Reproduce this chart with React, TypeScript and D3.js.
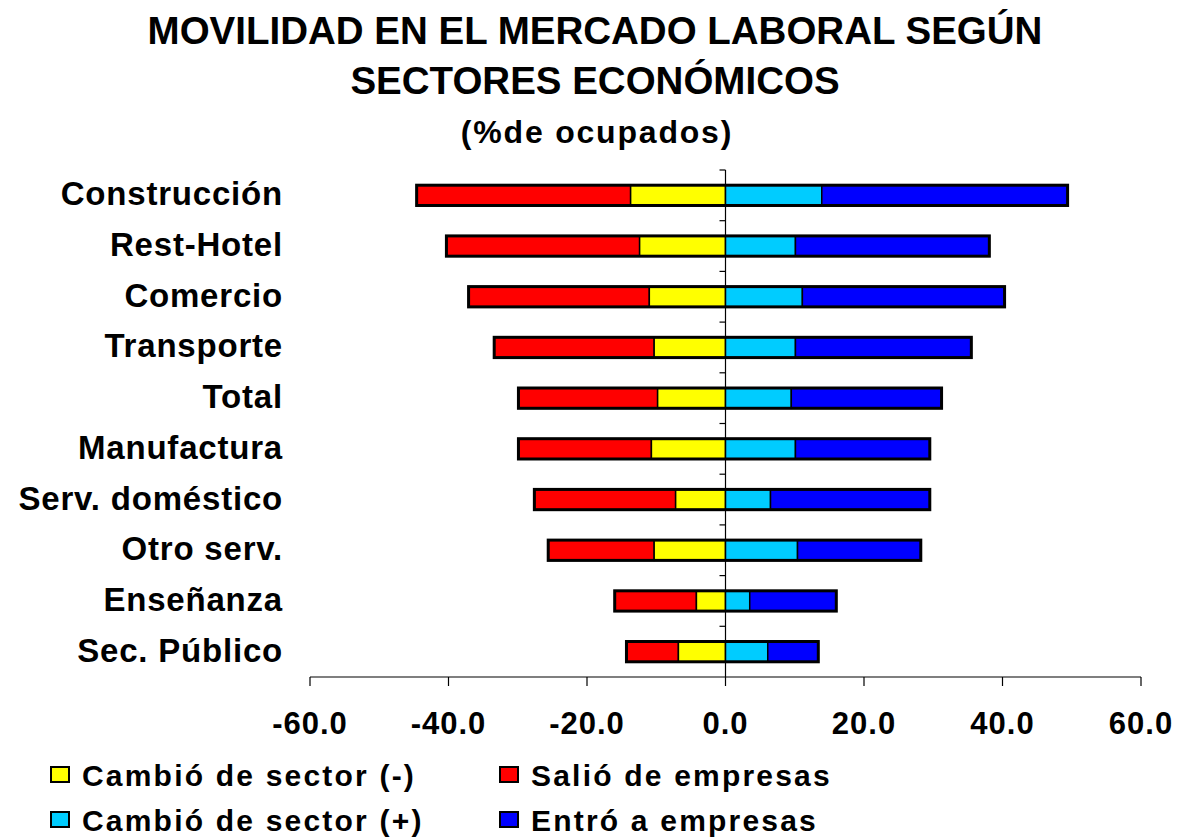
import React from 'react';
import * as d3 from 'd3';

const sectores = [
  'Construcción',
  'Rest-Hotel',
  'Comercio',
  'Transporte',
  'Total',
  'Manufactura',
  'Serv. doméstico',
  'Otro serv.',
  'Enseñanza',
  'Sec. Público',
];

// valores en % de ocupados (negativos a la izquierda)
const cambioMenos = [-13.7, -12.4, -11.0, -10.3, -9.8, -10.7, -7.2, -10.3, -4.2, -6.8];
const salio = [-30.9, -27.9, -26.1, -23.1, -20.1, -19.2, -20.4, -15.3, -11.8, -7.5];
const cambioMas = [13.9, 10.1, 11.1, 10.1, 9.5, 10.1, 6.5, 10.4, 3.5, 6.1];
const entro = [35.5, 28.0, 29.2, 25.4, 21.7, 19.4, 23.0, 17.8, 12.5, 7.3];

const ticksX = [-60, -40, -20, 0, 20, 40, 60];

const colores = {
  cambioMenos: '#ffff00',
  salio: '#ff0000',
  cambioMas: '#00ccff',
  entro: '#0000ff',
};

const leyenda = [
  { label: 'Cambió de sector (-)', color: colores.cambioMenos },
  { label: 'Salió de empresas', color: colores.salio },
  { label: 'Cambió de sector (+)', color: colores.cambioMas },
  { label: 'Entró a empresas', color: colores.entro },
];

const W = 1177;
const H = 839;
const font = '"Liberation Sans", Arial, sans-serif';

export default function App() {
  const x = d3.scaleLinear().domain([-60, 60]).range([310, 1141]);
  const y = d3.scaleBand().domain(sectores).range([170, 677]).paddingInner(0.6).paddingOuter(0.3);
  const yb = d3.scaleBand().domain(sectores).range([170, 677]);

  return (
    <svg width={W} height={H} style={{ position: 'absolute', left: 0, top: 0 }} fontFamily={font}>
      <rect width={W} height={H} fill="#fff" />
      <text textAnchor="middle" fontWeight="bold" fontSize={38.5}>
        <tspan x={595} y={44}>MOVILIDAD EN EL MERCADO LABORAL SEGÚN</tspan>
        <tspan x={595} y={94}>SECTORES ECONÓMICOS</tspan>
      </text>
      <text x={597} y={143} textAnchor="middle" fontWeight="bold" fontSize={32} letterSpacing={1.8}>(%de ocupados)</text>

      {/* eje vertical en cero y marcas entre categorías */}
      <line x1={x(0)} x2={x(0)} y1={170} y2={677} stroke="#000" strokeWidth={1.2} />
      {sectores.map((s, i) => (
        <line key={'t' + i} x1={x(0) - 6} x2={x(0)} y1={yb(s)!} y2={yb(s)!} stroke="#000" strokeWidth={1.2} />
      ))}

      {sectores.map((s, i) => {
        const y0 = y(s)!;
        const h = y.bandwidth();
        const a = cambioMenos[i];
        const b = a + salio[i];
        const c = cambioMas[i];
        const d = c + entro[i];
        const segs = [
          { x0: b, x1: a, color: colores.salio },
          { x0: a, x1: 0, color: colores.cambioMenos },
          { x0: 0, x1: c, color: colores.cambioMas },
          { x0: c, x1: d, color: colores.entro },
        ];
        return (
          <g key={s}>
            {segs.map((g, j) => (
              <rect key={j} x={x(g.x0)} y={y0} width={x(g.x1) - x(g.x0)} height={h}
                fill={g.color} stroke="#000" strokeWidth={1.5} />
            ))}
            <rect x={x(b)} y={y0} width={x(d) - x(b)} height={h} fill="none" stroke="#000" strokeWidth={3} />
            <text x={283} y={y0 + h / 2 + 10} textAnchor="end" fontWeight="bold" fontSize={33} letterSpacing={0.8}>{s}</text>
          </g>
        );
      })}

      {/* eje X */}
      <line x1={x(-60)} x2={x(60)} y1={677} y2={677} stroke="#000" strokeWidth={1.2} />
      {ticksX.map(t => (
        <g key={t}>
          <line x1={x(t)} x2={x(t)} y1={677} y2={686} stroke="#000" strokeWidth={1.2} />
          <text x={x(t)} y={734} textAnchor="middle" fontWeight="bold" fontSize={31} letterSpacing={1}>{d3.format('.1f')(t).replace('−', '-')}</text>
        </g>
      ))}

      {leyenda.map((l, i) => {
        const lx = i % 2 === 0 ? 51 : 500;
        const ly = i < 2 ? 786 : 831;
        return (
          <g key={l.label}>
            <rect x={lx} y={ly - 19} width={18} height={15} fill={l.color} stroke="#000" strokeWidth={2} />
            <text x={lx + 31} y={ly} fontWeight="bold" fontSize={30} letterSpacing={2.2}>{l.label}</text>
          </g>
        );
      })}
    </svg>
  );
}
